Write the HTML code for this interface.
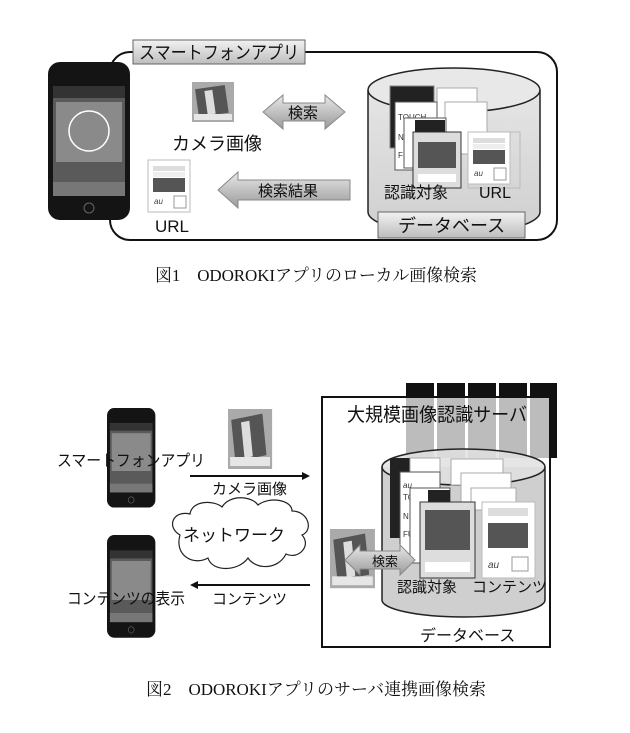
<!DOCTYPE html>
<html><head><meta charset="utf-8"><style>
html,body{margin:0;padding:0;background:#fff;}
svg{display:block}
.s{font-family:"Liberation Sans","Noto Sans CJK JP",sans-serif;fill:#111}
.c{font-family:"Liberation Serif","Noto Serif CJK SC",serif;fill:#111}
</style></head><body>
<svg width="630" height="733" viewBox="0 0 630 733" xmlns="http://www.w3.org/2000/svg">
<defs>
<linearGradient id="arr" x1="0" y1="0" x2="0" y2="1"><stop offset="0" stop-color="#e8e8e8"/><stop offset="1" stop-color="#9a9a9a"/></linearGradient>
<linearGradient id="lbl" x1="0" y1="0" x2="0" y2="1"><stop offset="0" stop-color="#f2f2f2"/><stop offset="1" stop-color="#bdbdbd"/></linearGradient>
<linearGradient id="cyl" x1="0" y1="0" x2="0" y2="1"><stop offset="0" stop-color="#e5e5e5"/><stop offset="1" stop-color="#cfcfcf"/></linearGradient>
<g id="phone">
<rect x="0" y="0" width="82" height="158" rx="12" fill="#141414"/>
<rect x="5" y="24" width="72" height="110" fill="#5a5a5a"/>
<rect x="5" y="24" width="72" height="12" fill="#333"/>
<rect x="8" y="40" width="66" height="60" fill="#8a8a8a"/>
<rect x="5" y="120" width="72" height="14" fill="#777"/>
<circle cx="41" cy="146" r="5" fill="none" stroke="#666"/>
</g>
<g id="doc">
<rect x="0" y="0" width="42" height="52" fill="#fff" stroke="#bbb"/>
<rect x="5" y="6" width="32" height="5" fill="#ddd"/>
<rect x="5" y="12" width="32" height="5" fill="#eee"/>
<rect x="5" y="18" width="32" height="14" fill="#555"/>
<rect x="26" y="36" width="12" height="12" fill="#fff" stroke="#999"/>
<text x="6" y="44" font-size="8" font-style="italic" fill="#444" font-family="Liberation Sans">au</text>
</g>
<g id="photo">
<rect x="0" y="0" width="42" height="40" fill="#aaa"/>
<rect x="5" y="5" width="30" height="28" fill="#555" transform="rotate(-8 20 20)"/>
<rect x="14" y="8" width="8" height="24" fill="#ddd" transform="rotate(-8 20 20)"/>
<rect x="2" y="32" width="38" height="6" fill="#e6e6e6"/>
</g>
</defs>

<!-- FIG 1 -->
<rect x="110" y="52" width="447" height="188" rx="20" fill="#fff" stroke="#111" stroke-width="2"/>
<use href="#phone" x="48" y="62"/>
<circle cx="89" cy="131" r="20" fill="none" stroke="#fff" stroke-width="1.5"/>
<rect x="133" y="40" width="172" height="24" fill="url(#lbl)" stroke="#666"/>
<text class="s" x="139" y="59" font-size="18" textLength="160" lengthAdjust="spacingAndGlyphs">スマートフォンアプリ</text>
<use href="#photo" x="192" y="82"/>
<text class="s" x="172" y="150" font-size="18">カメラ画像</text>
<path d="M263 112 L283 95 L283 103 L325 103 L325 95 L345 112 L325 129 L325 121 L283 121 L283 129 Z" fill="url(#arr)" stroke="#888"/>
<text class="s" x="288" y="118" font-size="15">検索</text>
<use href="#doc" x="148" y="160"/>
<text class="s" x="155" y="232" font-size="17">URL</text>
<path d="M218 190 L238 172 L238 180 L350 180 L350 200 L238 200 L238 208 Z" fill="url(#arr)" stroke="#888"/>
<text class="s" x="258" y="196" font-size="15">検索結果</text>
<path d="M368 90 L368 212 A86 22 0 0 0 540 212 L540 90" fill="url(#cyl)" stroke="#222" stroke-width="1.5"/>
<ellipse cx="454" cy="90" rx="86" ry="22" fill="#e8e8e8" stroke="#222" stroke-width="1.5"/>
<rect x="390" y="86" width="44" height="62" fill="#222" stroke="#888"/>
<rect x="437" y="88" width="40" height="56" fill="#fff" stroke="#aaa"/>
<rect x="445" y="102" width="42" height="52" fill="#fff" stroke="#aaa"/>
<rect x="395" y="102" width="42" height="68" fill="#fff" stroke="#555"/>
<text x="398" y="120" font-size="8" font-family="Liberation Sans" fill="#333">TOUCH</text>
<text x="398" y="140" font-size="8" font-family="Liberation Sans" fill="#333">N</text>
<text x="398" y="158" font-size="8" font-family="Liberation Sans" fill="#333">FU</text>
<rect x="404" y="118" width="42" height="50" fill="#fff" stroke="#555"/>
<rect x="415" y="120" width="30" height="12" fill="#222"/>
<rect x="413" y="132" width="48" height="56" fill="#ddd" stroke="#333"/>
<rect x="418" y="142" width="38" height="26" fill="#555"/>
<rect x="418" y="174" width="38" height="8" fill="#fff"/>
<use href="#doc" x="468" y="132"/>
<rect x="468" y="132" width="52" height="56" fill="none" stroke="#bbb"/>
<text class="s" x="384" y="198" font-size="16">認識対象</text>
<text class="s" x="479" y="198" font-size="16">URL</text>
<rect x="378" y="212" width="147" height="26" fill="url(#lbl)" stroke="#666"/>
<text class="s" x="398" y="232" font-size="18">データベース</text>
<text class="c" x="155" y="281" font-size="17" textLength="322" lengthAdjust="spacing">図1　ODOROKIアプリのローカル画像検索</text>

<!-- FIG 2 -->
<g fill="#111"><rect x="406" y="383" width="28" height="75"/><rect x="437" y="383" width="28" height="75"/><rect x="468" y="383" width="28" height="75"/><rect x="499" y="383" width="28" height="75"/><rect x="530" y="383" width="27" height="75"/></g>
<rect x="322" y="397" width="228" height="250" fill="#fff" fill-opacity="0.72" stroke="#111" stroke-width="2"/>
<text class="s" x="347" y="421" font-size="19" textLength="180" lengthAdjust="spacingAndGlyphs">大規模画像認識サーバ</text>
<g transform="translate(107,408) scale(0.59,0.63)"><use href="#phone"/></g>
<g transform="translate(107,535) scale(0.59,0.65)"><use href="#phone"/></g>
<text class="s" x="57" y="466" font-size="16" textLength="148" lengthAdjust="spacingAndGlyphs">スマートフォンアプリ</text>
<text class="s" x="67" y="604" font-size="16" textLength="118" lengthAdjust="spacingAndGlyphs">コンテンツの表示</text>
<g transform="translate(228,409) scale(1.05,1.5)"><use href="#photo"/></g>
<line x1="190" y1="476" x2="303" y2="476" stroke="#111" stroke-width="2"/>
<path d="M310 476 L302 472 L302 480 Z" fill="#111"/>
<text class="s" x="212" y="494" font-size="15">カメラ画像</text>
<path d="M180 535 C166 527 173 510 190 514 C192 500 214 500 222 507 C230 494 252 496 258 505 C270 496 292 500 292 511 C308 511 314 530 302 535 C312 546 298 560 286 554 C278 570 256 570 248 558 C238 572 212 572 208 558 C194 566 174 556 180 535 Z" fill="#fff" stroke="#222" stroke-width="1.2"/>
<text class="s" x="183" y="541" font-size="17">ネットワーク</text>
<line x1="195" y1="585" x2="310" y2="585" stroke="#111" stroke-width="2"/>
<path d="M190 585 L198 581 L198 589 Z" fill="#111"/>
<text class="s" x="212" y="604" font-size="15">コンテンツ</text>
<path d="M382 467 L382 600 A81.5 17 0 0 0 545 600 L545 467" fill="#cfcfcf" stroke="#222" stroke-width="1.5"/>
<ellipse cx="463.5" cy="467" rx="81.5" ry="18" fill="#e0e0e0" fill-opacity="0.85" stroke="#222" stroke-width="1.5"/>
<rect x="390" y="458" width="20" height="80" fill="#222"/>
<rect x="410" y="458" width="30" height="28" fill="#fff" stroke="#aaa"/>
<rect x="451" y="459" width="52" height="26" fill="#fff" stroke="#aaa"/>
<rect x="461" y="473" width="50" height="30" fill="#fff" stroke="#aaa"/>
<rect x="471" y="488" width="45" height="22" fill="#fff" stroke="#aaa"/>
<rect x="400" y="472" width="40" height="85" fill="#fff" stroke="#555"/>
<text x="403" y="488" font-size="8" font-style="italic" font-family="Liberation Sans" fill="#333">au</text>
<text x="403" y="500" font-size="8" font-family="Liberation Sans" fill="#333">TOUCH</text>
<text x="403" y="519" font-size="8" font-family="Liberation Sans" fill="#333">N</text>
<text x="403" y="537" font-size="8" font-family="Liberation Sans" fill="#333">FU</text>
<rect x="410" y="488" width="40" height="75" fill="#fff" stroke="#555"/>
<rect x="428" y="490" width="22" height="12" fill="#222"/>
<rect x="420" y="502" width="55" height="76" fill="#ddd" stroke="#333"/>
<rect x="425" y="510" width="45" height="40" fill="#555"/>
<rect x="425" y="562" width="45" height="10" fill="#fff"/>
<rect x="482" y="502" width="53" height="76" fill="#fff" stroke="#bbb"/>
<rect x="488" y="508" width="40" height="8" fill="#ddd"/>
<rect x="488" y="523" width="40" height="25" fill="#555"/>
<rect x="512" y="557" width="16" height="14" fill="#fff" stroke="#999"/>
<text x="488" y="568" font-size="10" font-style="italic" fill="#444" font-family="Liberation Sans">au</text>
<g transform="translate(330,529) scale(1.07,1.48)"><use href="#photo"/></g>
<path d="M345 560 L360 545 L360 551 L400 551 L400 545 L415 560 L400 575 L400 569 L360 569 L360 575 Z" fill="url(#arr)" stroke="#888"/>
<text class="s" x="372" y="566" font-size="13">検索</text>
<text class="s" x="397" y="592" font-size="15">認識対象</text>
<text class="s" x="472" y="592" font-size="15">コンテンツ</text>
<text class="s" x="420" y="641" font-size="16">データベース</text>
<text class="c" x="146" y="695" font-size="17" textLength="340" lengthAdjust="spacing">図2　ODOROKIアプリのサーバ連携画像検索</text>
</svg>
</body></html>
